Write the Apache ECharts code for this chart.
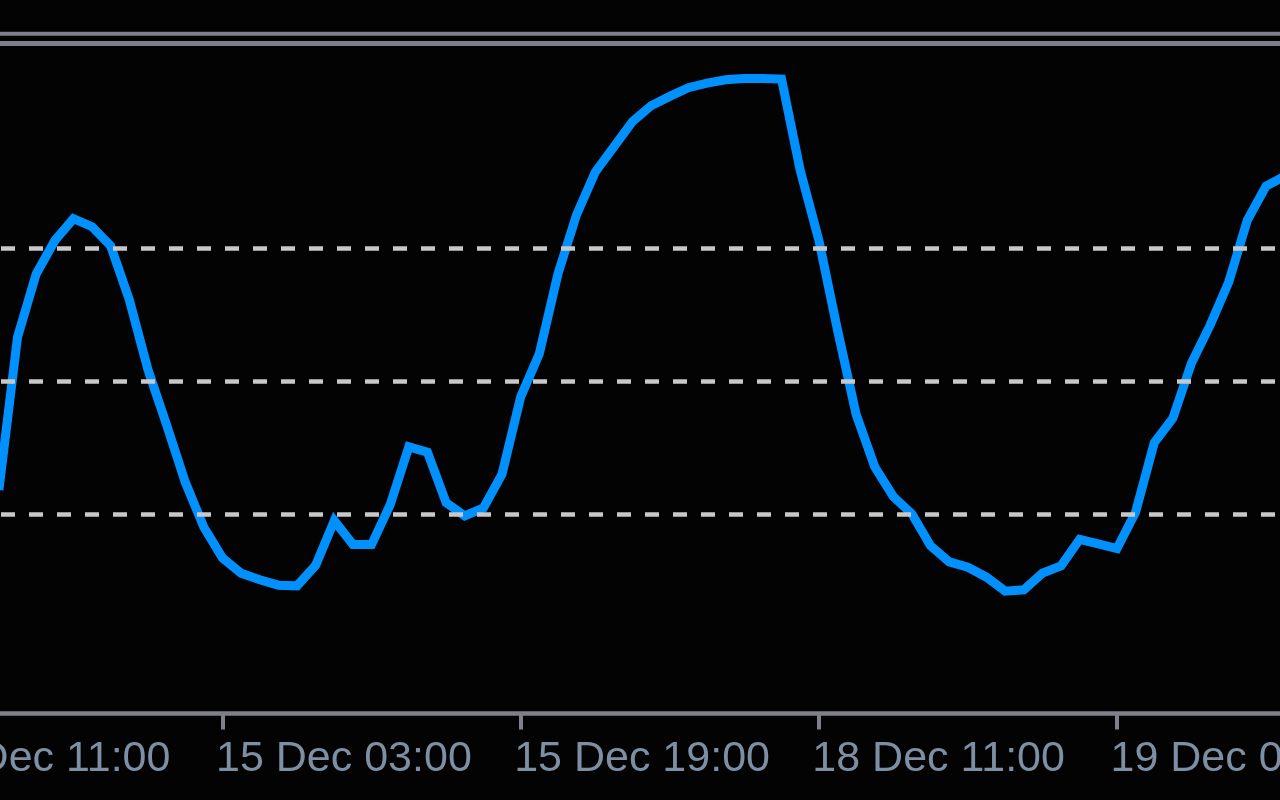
<!DOCTYPE html>
<html>
<head>
<meta charset="utf-8">
<script src="https://cdn.jsdelivr.net/npm/echarts@6/dist/echarts.min.js"></script>
<style>
  html, body { margin: 0; padding: 0; background: #030304; overflow: hidden; width: 1280px; height: 800px; position: relative; }
  #chart { position: absolute; top: 0; left: -100px; width: 1530px; height: 800px; }
</style>
</head>
<body>
<div id="chart"></div>
<script>
// ---- data (H1 bars; bar index 0 = 15 Dec 03:00) ----
const firstBarIndex = -12;
const rsiValues = [
  33.6, 56.6, 66.1, 71.1, 74.4, 73.2, 70.3, 62.2, 51.7, 43.4, 34.8, 28.0,
  23.4, 21.1, 20.1, 19.3, 19.2, 22.3, 29.0, 25.4, 25.4, 31.4, 40.1, 39.3,
  31.7, 29.7, 30.9, 36.0, 47.6, 54.1, 66.1, 75.0, 81.4, 85.2, 89.0, 91.4,
  92.8, 94.1, 94.8, 95.3, 95.5, 95.5, 95.4, 81.7, 71.2, 57.7, 45.0, 37.1,
  32.6, 30.0, 25.2, 22.8, 22.0, 20.5, 18.4, 18.6, 21.1, 22.2, 26.2, 25.5,
  24.8, 30.3, 40.7, 44.4, 52.7, 58.4, 64.9, 74.2, 79.3, 80.8
];
const levelValues = [30, 50, 70];
const tickBars = [-16, 0, 16, 32, 48, 64];
const tickLabels = ['14 Dec 11:00', '15 Dec 03:00', '15 Dec 19:00', '18 Dec 11:00', '19 Dec 03:00', '19 Dec 19:00'];

const seriesData = rsiValues.map((v, k) => [firstBarIndex + k, v]);

// ---- layout (canvas is wider than the window and shifted left) ----
const canvasOffset = 100;
const canvasWidth = 1530;
const barPx = 18.635;
const tick0Px = 222.5;
const gridLeft = tick0Px + barPx * tickBars[0] + canvasOffset;
const gridRightEdge = tick0Px + barPx * tickBars[tickBars.length - 1] + canvasOffset;
const gridRight = canvasWidth - gridRightEdge;
const labelShift = 6.5;
const frameColor = '#80808a';

const chart = echarts.init(document.getElementById('chart'), null, { renderer: 'canvas' });
chart.setOption({
  backgroundColor: '#030304',
  animation: false,
  grid: [
    { left: gridLeft, right: gridRight, top: 43.5, bottom: 86.5, containLabel: false, outerBoundsMode: 'none' },
    { left: gridLeft - labelShift, right: gridRight + labelShift, top: 43.5, bottom: 86.5, containLabel: false, outerBoundsMode: 'none' }
  ],
  xAxis: [
    {
      gridIndex: 0, type: 'value', min: tickBars[0], max: tickBars[tickBars.length - 1], interval: 16,
      axisLine: { show: true, lineStyle: { color: frameColor, width: 4.5 } },
      axisTick: { show: true, length: 16, lineStyle: { color: frameColor, width: 4 } },
      axisLabel: { show: false },
      splitLine: { show: false }
    },
    {
      gridIndex: 0, type: 'value', position: 'top', min: tickBars[0], max: tickBars[tickBars.length - 1],
      axisLine: { show: true, onZero: false, lineStyle: { color: frameColor, width: 5 } },
      axisTick: { show: false }, axisLabel: { show: false }, splitLine: { show: false }
    },
    {
      gridIndex: 1, type: 'value', min: tickBars[0], max: tickBars[tickBars.length - 1], interval: 16,
      axisLine: { show: false }, axisTick: { show: false }, splitLine: { show: false },
      axisLabel: {
        show: true, showMinLabel: true, showMaxLabel: true, hideOverlap: false,
        align: 'left', margin: 24,
        color: '#7d8fa3', fontSize: 43, fontFamily: 'Liberation Sans',
        formatter: function (v) {
          const idx = tickBars.indexOf(Math.round(v));
          return idx >= 0 ? tickLabels[idx] : '';
        }
      }
    }
  ],
  yAxis: [
    { gridIndex: 0, type: 'value', min: 0, max: 100.75, show: false, splitLine: { show: false } },
    { gridIndex: 1, type: 'value', min: 0, max: 100.75, show: false, splitLine: { show: false } }
  ],
  graphic: [
    {
      type: 'line', silent: true,
      shape: { x1: 0, y1: 33.8, x2: canvasWidth, y2: 33.8 },
      style: { stroke: frameColor, lineWidth: 4 }
    }
  ],
  series: [
    {
      type: 'line', xAxisIndex: 0, yAxisIndex: 0,
      data: seriesData,
      showSymbol: false, symbol: 'none',
      lineStyle: { color: '#0091ff', width: 9, join: 'miter' },
      z: 3,
      markLine: {
        silent: true, symbol: 'none', animation: false,
        label: { show: false },
        lineStyle: { color: '#c8c8c8', width: 4.5, type: [14, 14], dashOffset: 7.34 },
        data: levelValues.map(v => ({ yAxis: v }))
      }
    }
  ]
});
</script>
</body>
</html>
